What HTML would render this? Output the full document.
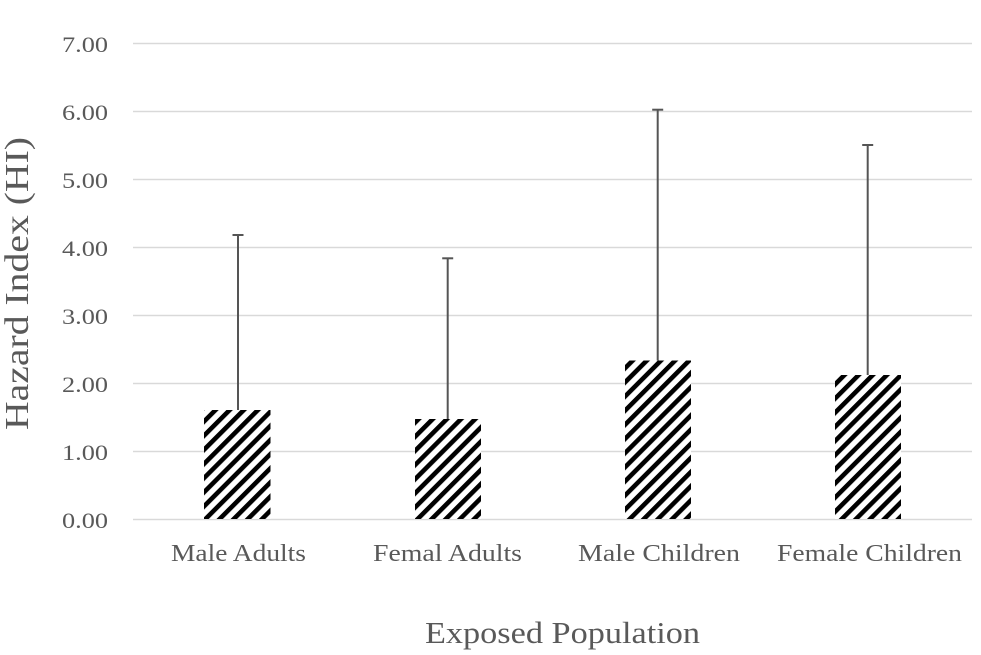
<!DOCTYPE html>
<html>
<head>
<meta charset="utf-8">
<style>
html,body{margin:0;padding:0;background:#fff;}
svg{display:block;}
text{font-family:"Liberation Serif","Times New Roman",serif;fill:#595959;}
</style>
</head>
<body>
<svg width="981" height="655" viewBox="0 0 981 655" xmlns="http://www.w3.org/2000/svg">
<defs>
<pattern id="hatch" patternUnits="userSpaceOnUse" width="10" height="10" patternTransform="rotate(45)">
<rect x="0" y="0" width="10" height="10" fill="#fff"/>
<rect x="0" y="0" width="4.6" height="10" fill="#000"/>
</pattern>
</defs>
<rect width="981" height="655" fill="#fff"/>
<!-- gridlines -->
<g stroke="#d9d9d9" stroke-width="1.6">
<line x1="133" y1="43.5" x2="972" y2="43.5"/>
<line x1="133" y1="111.5" x2="972" y2="111.5"/>
<line x1="133" y1="179.5" x2="972" y2="179.5"/>
<line x1="133" y1="247.5" x2="972" y2="247.5"/>
<line x1="133" y1="315.5" x2="972" y2="315.5"/>
<line x1="133" y1="383.5" x2="972" y2="383.5"/>
<line x1="133" y1="451.5" x2="972" y2="451.5"/>
<line x1="133" y1="519.5" x2="972" y2="519.5"/>
</g>
<!-- tick labels -->
<g font-size="22" text-anchor="end">
<text x="108" y="52" textLength="46" lengthAdjust="spacingAndGlyphs">7.00</text>
<text x="108" y="120" textLength="46" lengthAdjust="spacingAndGlyphs">6.00</text>
<text x="108" y="188" textLength="46" lengthAdjust="spacingAndGlyphs">5.00</text>
<text x="108" y="256" textLength="46" lengthAdjust="spacingAndGlyphs">4.00</text>
<text x="108" y="324" textLength="46" lengthAdjust="spacingAndGlyphs">3.00</text>
<text x="108" y="392" textLength="46" lengthAdjust="spacingAndGlyphs">2.00</text>
<text x="108" y="460" textLength="46" lengthAdjust="spacingAndGlyphs">1.00</text>
<text x="108" y="528" textLength="46" lengthAdjust="spacingAndGlyphs">0.00</text>
</g>
<!-- bars -->
<rect x="204" y="410" width="66.5" height="109" fill="url(#hatch)"/>
<rect x="415" y="419" width="66" height="100" fill="url(#hatch)"/>
<rect x="625" y="360.5" width="66" height="158.5" fill="url(#hatch)"/>
<rect x="835" y="375" width="66" height="144" fill="url(#hatch)"/>
<!-- error bars -->
<g stroke="#555" stroke-width="2" fill="none">
<line x1="238" y1="235" x2="238" y2="410"/>
<line x1="232.5" y1="235" x2="243.5" y2="235"/>
<line x1="447.7" y1="258.3" x2="447.7" y2="419"/>
<line x1="442.2" y1="258.3" x2="453.2" y2="258.3"/>
<line x1="657.7" y1="109.7" x2="657.7" y2="360.5"/>
<line x1="652.2" y1="109.7" x2="663.2" y2="109.7"/>
<line x1="867.7" y1="145" x2="867.7" y2="375"/>
<line x1="862.2" y1="145" x2="873.2" y2="145"/>
</g>
<!-- category labels -->
<g font-size="24">
<text x="171" y="561" textLength="135" lengthAdjust="spacingAndGlyphs">Male Adults</text>
<text x="373" y="561" textLength="149" lengthAdjust="spacingAndGlyphs">Femal Adults</text>
<text x="578" y="561" textLength="162" lengthAdjust="spacingAndGlyphs">Male Children</text>
<text x="777" y="561" textLength="185" lengthAdjust="spacingAndGlyphs">Female Children</text>
</g>
<!-- axis titles -->
<text x="425" y="643" font-size="31" textLength="275" lengthAdjust="spacingAndGlyphs">Exposed Population</text>
<text transform="translate(28,430) rotate(-90)" x="0" y="0" font-size="34" textLength="293" lengthAdjust="spacingAndGlyphs">Hazard Index (HI)</text>
</svg>
</body>
</html>
